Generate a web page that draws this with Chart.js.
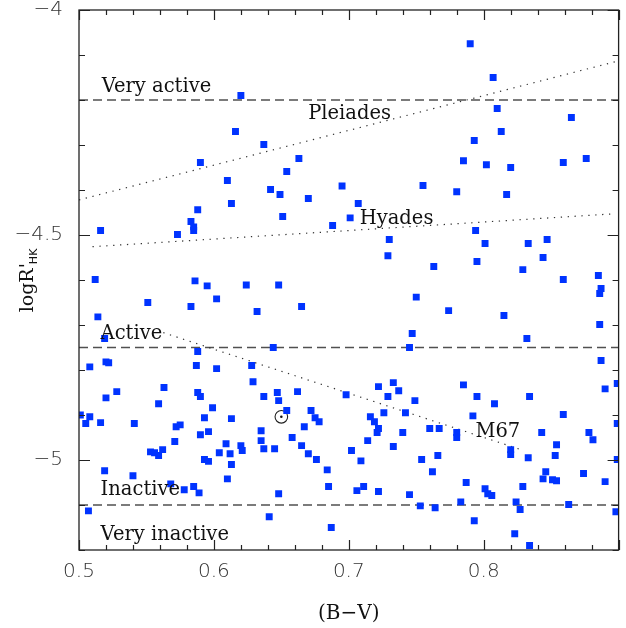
<!DOCTYPE html>
<html>
<head>
<meta charset="utf-8">
<script src="https://cdn.jsdelivr.net/npm/chart.js@4.4.0/dist/chart.umd.min.js"></script>
<style>
  html, body { margin: 0; padding: 0; background: #fff; }
  #wrap { width: 626px; height: 628px; }
</style>
</head>
<body>
<div id="wrap"><canvas id="chartCanvas" width="626" height="628"></canvas></div>
<script>
// (B-V) colour index and log R'HK for each star of the sample
const starBV = [
    0.590, 0.588, 0.583, 0.585, 0.585, 0.516, 0.573, 0.512, 0.586, 0.595,
    0.602, 0.620, 0.616, 0.637, 0.663, 0.654, 0.610, 0.695, 0.642, 0.649,
    0.670, 0.613, 0.651, 0.701, 0.688, 0.624, 0.648, 0.790, 0.793, 0.785,
    0.802, 0.755, 0.780, 0.707, 0.794, 0.801, 0.730, 0.729, 0.795, 0.763,
    0.750, 0.807, 0.810, 0.865, 0.813, 0.820, 0.859, 0.876, 0.817, 0.833,
    0.847, 0.844, 0.829, 0.859, 0.885, 0.887, 0.886, 0.551, 0.514, 0.583,
    0.519, 0.588, 0.508, 0.520, 0.522, 0.587, 0.602, 0.563, 0.528, 0.520,
    0.588, 0.590, 0.559, 0.599, 0.501, 0.508, 0.505, 0.516, 0.541, 0.593,
    0.572, 0.575, 0.590, 0.596, 0.571, 0.553, 0.556, 0.559, 0.562, 0.593,
    0.596, 0.604, 0.519, 0.540, 0.568, 0.578, 0.585, 0.589, 0.507, 0.632,
    0.665, 0.644, 0.628, 0.629, 0.647, 0.648, 0.637, 0.662, 0.698, 0.613,
    0.654, 0.672, 0.675, 0.678, 0.667, 0.635, 0.635, 0.658, 0.609, 0.620,
    0.621, 0.637, 0.645, 0.665, 0.612, 0.670, 0.676, 0.702, 0.613, 0.684,
    0.610, 0.685, 0.648, 0.641, 0.687, 0.774, 0.747, 0.745, 0.733, 0.722,
    0.737, 0.729, 0.749, 0.785, 0.795, 0.716, 0.719, 0.726, 0.742, 0.792,
    0.722, 0.721, 0.740, 0.760, 0.767, 0.780, 0.780, 0.714, 0.733, 0.709,
    0.754, 0.766, 0.762, 0.787, 0.706, 0.711, 0.722, 0.745, 0.801, 0.803,
    0.783, 0.753, 0.764, 0.793, 0.815, 0.886, 0.832, 0.887, 0.899, 0.890,
    0.834, 0.808, 0.859, 0.899, 0.843, 0.878, 0.881, 0.854, 0.853, 0.820,
    0.820, 0.833, 0.899, 0.846, 0.844, 0.851, 0.854, 0.874, 0.890, 0.806,
    0.829, 0.824, 0.827, 0.863, 0.898, 0.823, 0.834
];
const starLogR = [
    -4.339, -4.444, -4.470, -4.482, -4.490, -4.490, -4.499, -4.599, -4.602, -4.613,
    -4.642, -4.190, -4.270, -4.299, -4.330, -4.359, -4.379, -4.391, -4.399, -4.410,
    -4.419, -4.430, -4.459, -4.462, -4.479, -4.611, -4.611, -4.075, -4.290, -4.335,
    -4.344, -4.390, -4.404, -4.430, -4.490, -4.519, -4.510, -4.546, -4.559, -4.570,
    -4.638, -4.150, -4.219, -4.239, -4.270, -4.350, -4.339, -4.330, -4.410, -4.519,
    -4.510, -4.550, -4.577, -4.599, -4.590, -4.619, -4.630, -4.650, -4.682, -4.659,
    -4.730, -4.759, -4.793, -4.782, -4.784, -4.790, -4.797, -4.839, -4.848, -4.862,
    -4.850, -4.859, -4.875, -4.884, -4.900, -4.904, -4.919, -4.917, -4.919, -4.906,
    -4.926, -4.922, -4.944, -4.937, -4.959, -4.982, -4.984, -4.990, -4.977, -4.999,
    -5.003, -4.984, -5.024, -5.035, -5.053, -5.066, -5.059, -5.073, -5.113, -4.670,
    -4.659, -4.750, -4.790, -4.826, -4.850, -4.868, -4.859, -4.848, -4.855, -4.908,
    -4.890, -4.890, -4.906, -4.915, -4.926, -4.935, -4.957, -4.950, -4.964, -4.968,
    -4.979, -4.975, -4.975, -4.968, -4.986, -4.986, -4.999, -4.979, -5.010, -5.022,
    -5.042, -5.059, -5.075, -5.126, -5.150, -4.668, -4.719, -4.750, -4.828, -4.837,
    -4.846, -4.859, -4.868, -4.833, -4.859, -4.904, -4.915, -4.895, -4.895, -4.902,
    -4.930, -4.939, -4.939, -4.930, -4.930, -4.939, -4.950, -4.957, -4.970, -5.002,
    -4.999, -4.990, -5.026, -5.050, -5.068, -5.059, -5.070, -5.077, -5.064, -5.075,
    -5.093, -5.102, -5.106, -5.135, -4.679, -4.699, -4.730, -4.779, -4.830, -4.842,
    -4.859, -4.875, -4.899, -4.919, -4.939, -4.939, -4.955, -4.966, -4.990, -4.977,
    -4.988, -4.995, -4.999, -5.026, -5.042, -5.044, -5.046, -5.030, -5.048, -5.079,
    -5.059, -5.093, -5.110, -5.099, -5.115, -5.164, -5.190
];

// the Sun
const sunBV = [0.650];
const sunLogR = [-4.904];

// activity level boundaries
const levelLogR = [-4.2, -4.75, -5.1];

// cluster relations (end points)
const pleiadesBV = [0.50, 0.90];
const pleiadesLogR = [-4.422, -4.113];
const hyadesBV = [0.510, 0.896];
const hyadesLogR = [-4.526, -4.453];
const m67BV = [0.5625, 0.8267];
const m67LogR = [-4.717, -4.976];

// text labels and their anchor (BV, logR of the baseline start)
const labelTexts = ['Very active', 'Pleiades', 'Hyades', 'Active', 'M67', 'Inactive', 'Very inactive'];
const labelBV = [0.5168, 0.6699, 0.7081, 0.516, 0.7939, 0.516, 0.516];
const labelLogR = [-4.1816, -4.2433, -4.4756, -4.731, -4.949, -5.0767, -5.178];

// axes
const xMin = 0.5, xMax = 0.9;
const yMin = -5.2, yMax = -4.0;
const xTickLabels = ['0.5', '0.6', '0.7', '0.8'];
const yTickLabels = ['\u22124', '\u22124.5', '\u22125'];

const toPoints = (xs, ys) => xs.map((v, i) => ({ x: v, y: ys[i] }));

const lineSet = (pts, dash, color, width) => ({
    type: 'line',
    data: pts,
    borderColor: color,
    borderWidth: width,
    borderDash: dash,
    borderCapStyle: 'butt',
    pointRadius: 0,
    fill: false,
    showLine: true,
    clip: 0
});

const datasets = [
    {
        label: 'stars',
        data: toPoints(starBV, starLogR),
        pointStyle: 'rect',
        pointRadius: 4.9,
        pointBorderWidth: 0,
        backgroundColor: '#0033ff',
        borderColor: '#0033ff',
        clip: 0
    },
    {
        label: 'sun dot',
        data: toPoints(sunBV, sunLogR),
        pointStyle: 'circle',
        pointRadius: 1.3,
        pointBorderWidth: 0,
        backgroundColor: '#111'
    },
    {
        label: 'sun',
        data: toPoints(sunBV, sunLogR),
        pointStyle: 'circle',
        pointRadius: 6.3,
        pointBorderWidth: 1.1,
        borderColor: '#222',
        backgroundColor: 'rgba(255,255,255,0)'
    },
    lineSet(toPoints(pleiadesBV, pleiadesLogR), [1.3, 5.6], '#333', 1.2),
    lineSet(toPoints(hyadesBV, hyadesLogR), [1.3, 5.6], '#333', 1.2),
    lineSet(toPoints(m67BV, m67LogR), [1.3, 5.6], '#333', 1.2)
];
levelLogR.forEach(v => {
    datasets.push(lineSet(toPoints([xMin, xMax], [v, v]), [9, 5], '#505050', 1.4));
});

const isMajor = (v, step) => Math.abs(v / step - Math.round(v / step)) < 1e-6;

const frameAndText = {
    id: 'frameAndText',
    afterDatasetsDraw(chart) {
        const { ctx, chartArea: a, scales: { x, y } } = chart;
        ctx.save();
        ctx.strokeStyle = '#222';
        ctx.lineWidth = 1.3;
        ctx.strokeRect(a.left, a.top, a.right - a.left, a.bottom - a.top);

        // inward ticks
        ctx.beginPath();
        for (let i = 0; i <= Math.round((xMax - xMin) / 0.02); i++) {
            const v = xMin + i * 0.02;
            const px = Math.round(x.getPixelForValue(v)) + 0.5;
            const len = isMajor(v, 0.1) ? 10 : 5;
            ctx.moveTo(px, a.bottom); ctx.lineTo(px, a.bottom - len);
            ctx.moveTo(px, a.top); ctx.lineTo(px, a.top + len);
        }
        for (let i = 0; i <= Math.round((yMax - yMin) / 0.1); i++) {
            const v = yMin + i * 0.1;
            const py = Math.round(y.getPixelForValue(v)) + 0.5;
            const len = isMajor(v, 0.5) ? 11 : 6;
            ctx.moveTo(a.left, py); ctx.lineTo(a.left + len, py);
            ctx.moveTo(a.right, py); ctx.lineTo(a.right - len, py);
        }
        ctx.lineWidth = 1.2;
        ctx.stroke();

        // labels inside the plot
        ctx.fillStyle = '#111';
        ctx.font = '19.5px "DejaVu Serif"';
        ctx.textAlign = 'left';
        ctx.textBaseline = 'alphabetic';
        labelTexts.forEach((t, i) => {
            ctx.fillText(t, x.getPixelForValue(labelBV[i]), y.getPixelForValue(labelLogR[i]));
        });

        // x title
        ctx.textAlign = 'center';
        ctx.font = '20px "DejaVu Serif"';
        ctx.fillText('(B\u2212V)', x.getPixelForValue(0.7), 619);

        // y title, rotated, with HK subscript
        ctx.translate(33, (a.top + a.bottom) / 2);
        ctx.rotate(-Math.PI / 2);
        ctx.font = '19px "DejaVu Serif"';
        const main = "logR'";
        const wMain = ctx.measureText(main).width;
        ctx.font = '11px "DejaVu Sans"';
        const wSub = ctx.measureText('HK').width;
        const start = -(wMain + wSub) / 2;
        ctx.textAlign = 'left';
        ctx.font = '19px "DejaVu Serif"';
        ctx.fillText(main, start, 0);
        ctx.font = '11px "DejaVu Sans"';
        ctx.fillText('HK', start + wMain - 1, 4);
        ctx.restore();
    }
};

const ctx = document.getElementById('chartCanvas').getContext('2d');
new Chart(ctx, {
    type: 'scatter',
    data: { datasets },
    options: {
        responsive: false,
        animation: false,
        events: [],
        layout: { padding: { top: 10, right: 7, left: 0, bottom: 0 } },
        plugins: { legend: { display: false }, tooltip: { enabled: false } },
        scales: {
            x: {
                type: 'linear',
                min: xMin,
                max: xMax,
                grid: { display: false, drawTicks: false },
                border: { display: false },
                ticks: {
                    stepSize: 0.1,
                    autoSkip: false,
                    maxRotation: 0,
                    padding: 10,
                    color: '#333',
                    font: { family: 'DejaVu Sans', size: 20, weight: '200' },
                    callback: (v) => {
                        const s = Number(v).toFixed(1);
                        return xTickLabels.includes(s) ? s : '';
                    }
                },
                afterFit: (scale) => {
                    scale.height = 78;
                    scale.paddingLeft = 0;
                    scale.paddingRight = 0;
                }
            },
            y: {
                type: 'linear',
                min: yMin,
                max: yMax,
                grid: { display: false, drawTicks: false },
                border: { display: false },
                ticks: {
                    stepSize: 0.1,
                    autoSkip: false,
                    padding: 16,
                    color: '#333',
                    font: { family: 'DejaVu Sans', size: 20, weight: '200' },
                    callback: (v) => {
                        if (!isMajor(v, 0.5)) return '';
                        const s = '\u2212' + String(Number(Math.abs(v).toFixed(1)));
                        return yTickLabels.includes(s) ? s : '';
                    }
                },
                afterFit: (scale) => {
                    scale.width = 79;
                    scale.paddingTop = 0;
                    scale.paddingBottom = 0;
                }
            }
        }
    },
    plugins: [frameAndText]
});
</script>
</body>
</html>
